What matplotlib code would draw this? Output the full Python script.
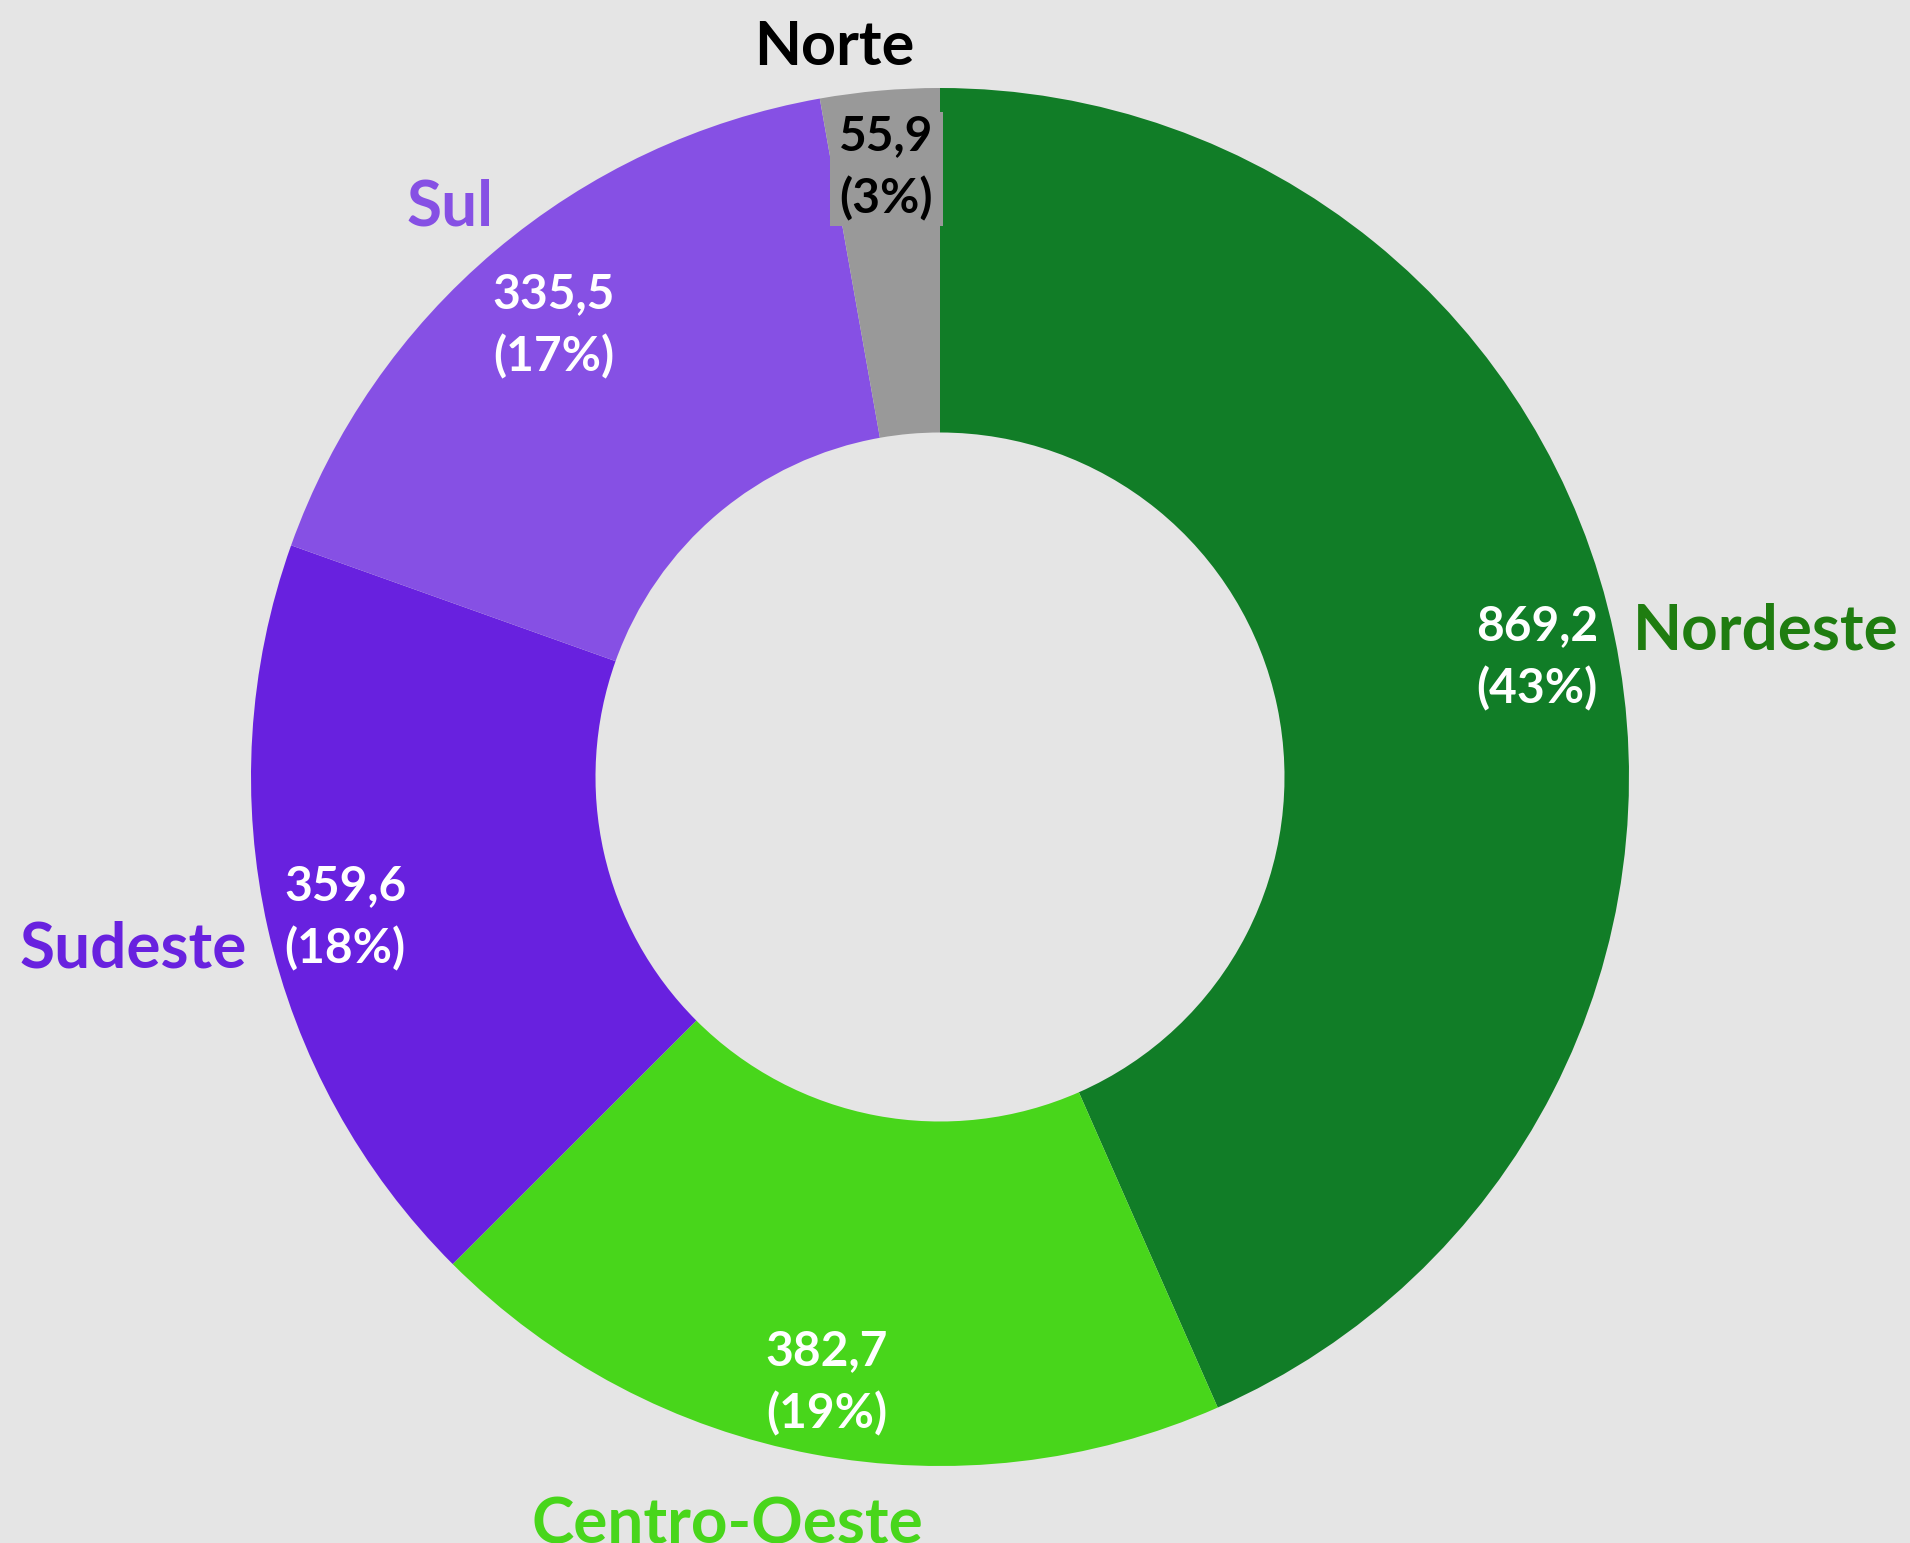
import matplotlib
matplotlib.use("Agg")
import matplotlib.pyplot as plt
from matplotlib.patches import Rectangle

# ---- data ----
regions = ["Nordeste", "Centro-Oeste", "Sudeste", "Sul", "Norte"]
values = [869.2, 382.7, 359.6, 335.5, 55.9]
value_labels = ["869,2", "382,7", "359,6", "335,5", "55,9"]
pct_labels = ["(43%)", "(19%)", "(18%)", "(17%)", "(3%)"]

# ---- style ----
wedge_colors = ["#117d27", "#48d61b", "#6821df", "#8650e4", "#999999"]
name_colors = ["#1f7d10", "#48d61b", "#6821df", "#8650e4", "#000000"]
value_colors = ["white", "white", "white", "white", "black"]
BG = "#e5e5e5"
FONT = "Lato"
WEIGHT = "bold"

W, H = 1910, 1543
fig = plt.figure(figsize=(W / 100, H / 100), dpi=100, facecolor=BG)
ax = fig.add_axes([0, 0, 1, 1])
ax.set_facecolor(BG)

cx, cy = 940, H - 777
R = 689
ax.pie(values, colors=wedge_colors, startangle=90, counterclock=False,
       radius=R, center=(cx, cy),
       wedgeprops=dict(width=R * 0.5, linewidth=0))
ax.set_xlim(0, W)
ax.set_ylim(0, H)
ax.set_aspect("equal")
ax.axis("off")

# label layout in pixel coords (x, baseline y from top)
value_pos = [(1537, 640), (827, 1365), (345, 900), (554, 308), (886, 150)]
name_pos = [(1633, 649, "left"), (727, 1543, "center"), (247, 967, "right"),
            (450, 225, "center"), (834, 65, "center")]
name_sizes = [46, 46, 46, 46, 44]
LINE = 63

fig.canvas.draw()
for i in range(len(regions)):
    x, yb = value_pos[i]
    t1 = ax.text(x, H - yb, value_labels[i], ha="center", va="baseline",
                 fontsize=34.5, fontweight=WEIGHT, family=FONT,
                 color=value_colors[i], zorder=5)
    t2 = ax.text(x, H - yb - LINE, pct_labels[i], ha="center", va="baseline",
                 fontsize=34.5, fontweight=WEIGHT, family=FONT,
                 color=value_colors[i], zorder=5)
    if regions[i] == "Norte":
        fig.canvas.draw()
        r = fig.canvas.get_renderer()
        b1 = t1.get_window_extent(r)
        b2 = t2.get_window_extent(r)
        x0 = min(b1.x0, b2.x0) - 9
        x1 = max(b1.x1, b2.x1) + 10
        y0 = min(b1.y0, b2.y0) - 5
        y1 = max(b1.y1, b2.y1) + 2
        ax.add_patch(Rectangle((x0, y0), x1 - x0, y1 - y0,
                               facecolor=wedge_colors[i], edgecolor="none",
                               zorder=4))
    nx, ny, ha = name_pos[i]
    ax.text(nx, H - ny, regions[i], ha=ha, va="baseline",
            fontsize=name_sizes[i], fontweight=WEIGHT, family=FONT,
            color=name_colors[i], zorder=5)

fig.savefig("out.png", dpi=100, facecolor=BG)
